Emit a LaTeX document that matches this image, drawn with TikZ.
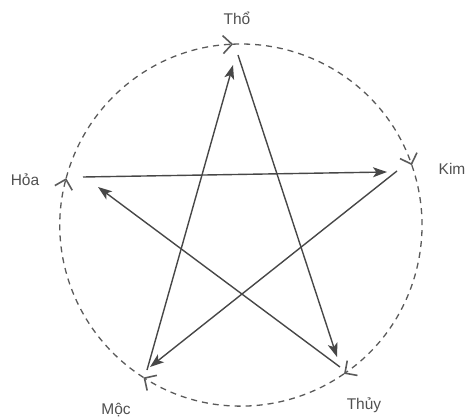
\documentclass[tikz,border=0pt]{standalone}
\usepackage{fontspec}
\setmainfont{Liberation Sans}
\usetikzlibrary{arrows.meta,calc}
\definecolor{lineg}{HTML}{474747}
\definecolor{dashg}{HTML}{5A5A5A}
\definecolor{textg}{HTML}{505050}
\tikzset{
  starline/.style={draw=lineg, line width=1.4pt, -{Stealth[length=14pt,width=10pt,inset=3.5pt]}},
  cyclearc/.style={draw=dashg, line width=1.3pt, dash pattern=on 6pt off 5pt, -{Straight Barb[length=9pt,width=18pt,line width=1.6pt]}},
  lbl/.style={text=textg, font=\fontsize{15.5pt}{17pt}\selectfont, inner sep=0pt}
}
\begin{document}
\begin{tikzpicture}[x=1pt,y=1pt]
\useasboundingbox (0,0) rectangle (470,418);
\coordinate (C) at (241,193);
\def\R{181}
% element points on the circle
\coordinate (cMoc) at ($(C)+(237.4:\R)$);
\coordinate (cHoa) at ($(C)+(165:\R)$);
\coordinate (cTho) at ($(C)+(92.5:\R)$);
\coordinate (cKim) at ($(C)+(19.3:\R)$);
\coordinate (cThuy) at ($(C)+(-55.3:\R)$);
% generating cycle (dashed circle)
\draw[cyclearc] (cMoc) arc[start angle=237.4, end angle=165, radius=\R];
\draw[cyclearc] (cHoa) arc[start angle=165, end angle=92.5, radius=\R];
\draw[cyclearc] (cTho) arc[start angle=92.5, end angle=19.3, radius=\R];
\draw[cyclearc] (cKim) arc[start angle=19.3, end angle=-55.3, radius=\R];
\draw[cyclearc] (cThuy) arc[start angle=-55.3, end angle=-122.6, radius=\R];
% labels
\node[lbl] (tho) at (237,400) {Thổ};
\node[lbl] (kim) at (452,249) {Kim};
\node[lbl] (hoa) at (25,238) {Hỏa};
\node[lbl] (moc) at (116,8) {Mộc};
\node[lbl] (thuy) at (364,13) {Thủy};
% star endpoints
\coordinate (thoA) at (238,363);
\coordinate (thoB) at (233,353);
\coordinate (kimA) at (387,246);
\coordinate (kimB) at (397,247);
\coordinate (hoaA) at (83,241);
\coordinate (hoaB) at (98,231);
\coordinate (mocA) at (147,48);
\coordinate (mocB) at (150,51);
\coordinate (thuyA) at (337,61);
\coordinate (thuyB) at (340,51);
% controlling cycle (star)
\draw[starline] (thoA) -- (thuyA);
\draw[starline] (mocA) -- (thoB);
\draw[starline] (hoaA) -- (kimA);
\draw[starline] (kimB) -- (mocB);
\draw[starline] (thuyB) -- (hoaB);
\end{tikzpicture}
\end{document}
